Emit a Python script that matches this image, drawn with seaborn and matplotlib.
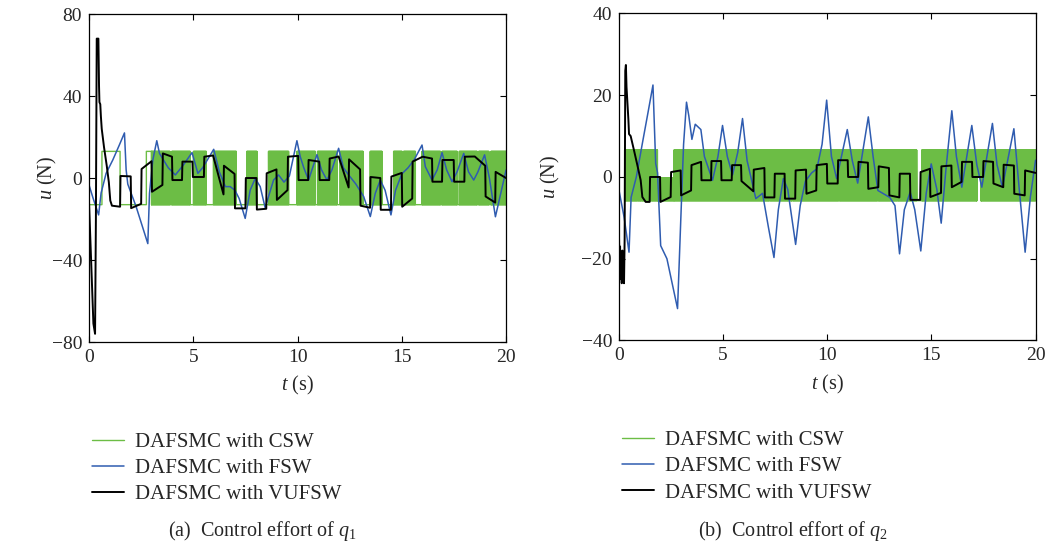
import numpy as np
import matplotlib
matplotlib.use("Agg")
import matplotlib.pyplot as plt
import seaborn as sns

# ---------------- data: joint 1 ----------------
# CSW: initial switching steps, then chattering blocks between two levels
CSW1_STEP_T = [0.0, 0.62, 0.62, 1.49, 1.49, 2.75, 2.75, 3.0]
CSW1_STEP_U = [-13, -13, 13, 13, -13, -13, 13, 13]
CSW1_START = [3.00, 3.97, 5.01, 5.97, 7.57, 8.61, 9.97, 10.96, 12.05, 13.49,
              14.61, 15.09, 15.97, 16.93, 17.76, 18.69, 19.28]
CSW1_END = [3.89, 4.85, 5.62, 7.06, 8.05, 9.57, 10.85, 11.89, 13.14, 14.05,
            15.01, 15.65, 16.85, 17.65, 18.61, 19.17, 20.00]
CSW1_HIGH = [13] * 17
CSW1_LOW = [-13] * 17

FSW1_T = [0.00, 0.20, 0.46, 0.58, 0.82, 1.14, 1.45, 1.70, 1.78, 1.86, 2.26, 2.82,
          2.90, 3.06, 3.25, 3.38, 3.57, 3.80, 4.14, 4.50, 4.94, 5.22, 5.45, 5.98,
          6.25, 6.54, 6.77, 7.00, 7.20, 7.49, 7.73, 7.97, 8.21, 8.45, 8.61, 8.85,
          9.09, 9.35, 9.61, 9.97, 10.13, 10.30, 10.53, 10.93, 11.15, 11.41, 11.65,
          11.97, 12.20, 12.45, 12.80, 13.17, 13.49, 13.73, 13.97, 14.20, 14.48,
          14.70, 15.00, 15.30, 15.60, 15.97, 16.13, 16.45, 16.70, 16.93, 17.15,
          17.41, 17.65, 17.97, 18.20, 18.45, 18.65, 18.97, 19.20, 19.49, 20.00]
FSW1_U = [-3.4, -10, -18, -7.3, 2.3, 8.8, 16, 22, 4, -3, -14, -32,
          -7.5, 8.8, 18.2, 12, 8.8, 5, 1.5, 6, 12.4, 2.3, 5, 14,
          3, -4.2, -4.2, -6, -10, -19.7, -5.9, -0.2, -4.2, -14.6, -9, -1,
          1.5, -2, 1, 18.2, 10.4, 5, -1, 11.4, 4, -1, 4,
          14.5, 5, 1.5, -3, -9, -18.8, -7.4, -1, -6, -18,
          -6, 2, 5, 9, 16.1, 5.5, -1, 4, 12.4, 4,
          -1.8, 3, 12, 3, -1, 3, 11.3, 0, -18.9, 3.9]

VUFSW1_T = [0.00, 0.10, 0.21, 0.29, 0.33, 0.37, 0.45, 0.48, 0.50, 0.54, 0.57, 0.61,
            0.72, 0.85, 0.95, 1.02, 1.10, 1.49, 1.51, 2.00, 2.02, 2.50, 2.52, 3.00,
            3.02, 3.52, 3.54, 3.98, 4.00, 4.46, 4.48, 4.96, 4.98, 5.51, 5.53, 5.95,
            6.45, 6.47, 6.98, 7.00, 7.50, 7.52, 8.03, 8.05, 8.50, 8.52, 8.99, 9.01,
            9.52, 9.54, 10.03, 10.05, 10.51, 10.53, 11.04, 11.06, 11.52, 11.54, 11.97,
            12.45, 12.47, 13.00, 13.02, 13.48, 13.50, 13.97, 13.99, 14.48, 14.50,
            15.00, 15.02, 15.50, 15.52, 16.00, 16.45, 16.47, 16.93, 16.95, 17.49,
            17.51, 18.00, 18.02, 18.50, 19.00, 19.02, 19.48, 19.50, 20.00]
VUFSW1_U = [-12, -40, -71, -76, -20, 68, 68, 45, 37, 36, 30, 24,
            15, 6, -2, -11, -13.5, -14, 1, 0.8, -14.7, -12.6, 4.4, 8.2,
            -6.7, -3.4, 12, 10.4, -1, -1, 8, 8, 0.5, 0.5, 10.4, 11,
            -8, 6, 2, -14.8, -14.8, 0, 0, -15.4, -15, 2.3, 4.2, -10.7,
            -5.9, 10.4, 10.8, -1, -1, 8.8, 8, -1, -1, 9.5, 10.5,
            -4.6, 9.1, 4.2, -13.5, -14.5, 0.5, 0, -15.5, -15.5, 0.7,
            2.5, -14, -10, 8, 10.4, 9.5, -1.8, -1.8, 8.8, 8.8,
            -1.8, -1.8, 10.4, 10.5, 6, -9, -12, 3, 0]

# ---------------- data: joint 2 ----------------
CSW2_START = [0.27, 0.93, 1.09, 1.33, 1.57, 1.85, 2.64, 7.27, 8.14, 8.26, 8.37,
              10.59, 12.46, 13.41, 14.54, 17.18, 17.38]
CSW2_END = [0.90, 1.06, 1.30, 1.54, 1.85, 2.64, 7.22, 8.10, 8.22, 8.33, 10.55,
            12.42, 13.37, 14.30, 17.18, 17.38, 20.00]
CSW2_HIGH = [6.6, 6.6, 6.6, 6.6, 6.6, -0.3, 6.6, 6.6, 6.6, 6.6, 6.6,
             6.6, 6.6, 6.6, 6.6, 6.6, 6.6]
CSW2_LOW = [-5.8, -5.8, -5.8, -5.8, -5.8, -5.8, -5.8, -5.8, -5.8, -5.8, -5.8,
            -5.8, -5.8, -5.8, -5.8, 0.0, -5.8]

FSW2_T = [0.00, 0.25, 0.48, 0.58, 0.83, 1.12, 1.40, 1.63, 1.76, 1.85, 2.00, 2.30,
          2.81, 2.97, 3.10, 3.24, 3.35, 3.50, 3.66, 3.93, 4.10, 4.49, 4.75, 4.97,
          5.20, 5.45, 5.70, 5.93, 6.15, 6.57, 6.89, 7.17, 7.44, 7.65, 7.89, 8.10,
          8.48, 8.70, 8.95, 9.25, 9.50, 9.75, 9.97, 10.20, 10.45, 10.96, 11.20,
          11.46, 11.97, 12.20, 12.43, 13.00, 13.25, 13.47, 13.70, 13.98, 14.20,
          14.49, 14.75, 14.99, 15.26, 15.47, 15.70, 15.98, 16.20, 16.46, 16.94,
          17.18, 17.42, 17.93, 18.15, 18.41, 18.96, 19.20, 19.50, 19.75, 20.00]
FSW2_U = [-3.3, -10, -18.4, -5, 0, 8.2, 16, 22.5, 3.3, 1, -16.8, -20,
          -32.2, -9.8, 8, 18.3, 15, 9.2, 12.9, 11.6, 5, -0.8, 5, 12.6,
          5, 0.5, 6, 14.3, 4, -5.3, -4, -12.2, -19.7, -8, -0.4, -3,
          -16.5, -7, -1, 1, 2, 8, 18.8, 5, -0.4, 11.6, 4,
          -1.5, 14.7, 5, -3.3, -5, -7, -18.8, -8, -3.7, -8,
          -18.1, -4, 3.2, -3, -11.3, 2, 16.2, 5, -2.5, 12.6,
          3, -2.5, 13.1, 3, -2.5, 11.8, -2, -18.4, -5, 4.1]

VUFSW2_T = [0.00, 0.03, 0.05, 0.08, 0.10, 0.13, 0.16, 0.19, 0.22, 0.24, 0.27, 0.30,
            0.33, 0.36, 0.45, 0.48, 0.56, 0.72, 0.88, 1.04, 1.12, 1.28, 1.47, 1.49,
            1.97, 1.99, 2.48, 2.50, 2.96, 2.98, 3.46, 3.48, 3.94, 3.96, 4.42, 4.44,
            4.90, 4.92, 5.41, 5.43, 5.86, 5.88, 6.45, 6.47, 6.98, 7.00, 7.46, 7.48,
            7.95, 7.97, 8.46, 8.48, 8.98, 9.00, 9.47, 9.49, 9.98, 10.00, 10.50, 10.52,
            10.98, 11.00, 11.48, 11.50, 11.95, 11.97, 12.45, 12.47, 12.96, 12.98,
            13.46, 13.48, 13.97, 13.99, 14.46, 14.48, 14.93, 14.95, 15.46, 15.48,
            15.96, 15.98, 16.45, 16.47, 16.95, 16.97, 17.48, 17.50, 17.96, 17.98,
            18.45, 18.47, 18.96, 18.98, 19.48, 19.50, 20.00]
VUFSW2_U = [-15, -22, -17, -25, -19, -26, -18, -24, -21, -26, -15, 26,
            27.4, 22, 14, 10.5, 10, 6.5, 2.9, -0.8, -4.9, -6.1, -6.1, 0,
            0, -6.1, -4.9, 1.2, 1.6, -4.5, -3.3, 2.9, 3.7, -0.8, -0.8, 3.9,
            3.9, -0.8, -0.8, 2.9, 2.9, -1.0, -3.5, 1.8, 2.2, -5.0, -5.0, 0.8,
            0.8, -5.3, -5.3, 1.6, 1.8, -4.1, -3.3, 2.9, 3.2, -1.6, -1.6, 4.1,
            4.1, 0, 0, 3.7, 3.5, -2.9, -2.5, 2.6, 2.2, -4.5,
            -5, 0.8, 0.8, -5.6, -5.6, 1.2, 2, -4.9, -3.9, 2.6,
            2.8, -2.5, -1.2, 3.7, 3.7, 0, 0, 3.9, 3.7, -1.6,
            -2.5, 3, 2.8, -4.1, -4.5, 1.6, 1.0]

LABELS = ["DAFSMC with CSW", "DAFSMC with FSW", "DAFSMC with VUFSW"]
COLORS = ["#6cbd45", "#2f5cb0", "#000000"]


def switching_trace(starts, ends, highs, lows, dt=0.008):
    """Build a chattering control signal that toggles between two levels
    inside each active interval and rests at the low level between them."""
    ts, us = [], []
    for s, e, hi, lo in zip(starts, ends, highs, lows):
        n = max(int(round((e - s) / dt)), 1)
        tt = np.linspace(s, e, n + 1)
        uu = np.where(np.arange(n + 1) % 2 == 0, hi, lo)
        ts.append([s]); us.append([lo])
        ts.append(tt); us.append(uu)
        ts.append([e]); us.append([lo])
    return np.concatenate(ts), np.concatenate(us).astype(float)


sns.set_style("ticks", {"xtick.direction": "in", "ytick.direction": "in"})
plt.rcParams["font.family"] = ["Liberation Serif", "DejaVu Serif"]
plt.rcParams["mathtext.fontset"] = "custom"
plt.rcParams["mathtext.rm"] = "Liberation Serif"
plt.rcParams["mathtext.it"] = "Liberation Serif:italic"
plt.rcParams["axes.unicode_minus"] = True
# keep every switching edge of the dense chattering signal
plt.rcParams["path.simplify"] = False
plt.rcParams["agg.path.chunksize"] = 0

fig = plt.figure(figsize=(10.46, 5.48), dpi=100)
ax1 = fig.add_axes([0.0851, 0.3759, 0.3987, 0.5985])
ax2 = fig.add_axes([0.5918, 0.3787, 0.3982, 0.5967])

# joint 1
t_s1, u_s1 = switching_trace(CSW1_START, CSW1_END, CSW1_HIGH, CSW1_LOW)
t_c1 = np.concatenate([CSW1_STEP_T, t_s1])
u_c1 = np.concatenate([CSW1_STEP_U, u_s1])

# joint 2
t_c2, u_c2 = switching_trace(CSW2_START, CSW2_END, CSW2_HIGH, CSW2_LOW)

panels = [
    (ax1, (t_c1, u_c1), (FSW1_T, FSW1_U), (VUFSW1_T, VUFSW1_U),
     (-80, 80), [-80, -40, 0, 40, 80], r"(a)  Control effort of $q_1$", -0.072),
    (ax2, (t_c2, u_c2), (FSW2_T, FSW2_U), (VUFSW2_T, VUFSW2_U),
     (-40, 40), [-40, -20, 0, 20, 40], r"(b)  Control effort of $q_2$", -0.137),
]

for ax, csw, fsw, vufsw, ylim, yticks, caption, ylab_x in panels:
    sns.lineplot(x=csw[0], y=csw[1], ax=ax, color=COLORS[0], lw=1.0,
                 estimator=None, sort=False, label=LABELS[0])
    sns.lineplot(x=fsw[0], y=fsw[1], ax=ax, color=COLORS[1], lw=1.1,
                 estimator=None, sort=False, label=LABELS[1])
    sns.lineplot(x=vufsw[0], y=vufsw[1], ax=ax, color=COLORS[2], lw=1.4,
                 estimator=None, sort=False, label=LABELS[2])
    ax.set_xlim(0, 20)
    ax.set_ylim(*ylim)
    ax.set_xticks([0, 5, 10, 15, 20])
    ax.set_yticks(yticks)
    ax.tick_params(axis="both", which="both", direction="in", top=True, right=True,
                   length=4, width=0.8, labelsize=14, color="black", pad=5)
    for sp in ax.spines.values():
        sp.set_visible(True)
        sp.set_color("black")
        sp.set_linewidth(0.9)
    ax.set_xlabel(r"$t$ (s)", fontsize=14.5, labelpad=6)
    ax.set_ylabel(r"$u$ (N)", fontsize=14.5)
    ax.yaxis.set_label_coords(ylab_x, 0.5)
    handles, labels = ax.get_legend_handles_labels()
    ax.legend(handles, labels, loc="upper left", bbox_to_anchor=(-0.012, -0.25),
              frameon=False, fontsize=15, handlelength=1.5, handletextpad=0.55,
              labelspacing=0.32, borderaxespad=0)
    pos = ax.get_position()
    fig.text(pos.x0 + 0.166, 0.031, caption, fontsize=14.5, ha="center", va="center")

fig.savefig("out.png", dpi=100)
